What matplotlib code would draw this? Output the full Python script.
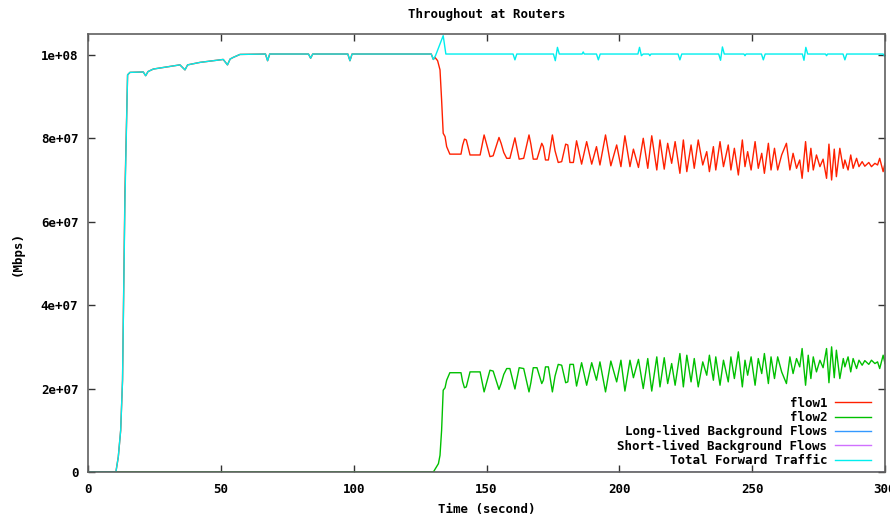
import matplotlib
matplotlib.use("Agg")
import matplotlib.pyplot as plt
from matplotlib.font_manager import FontProperties

SCALE = 1e6  # stored values are in units of 1e6

# ---------------- data ----------------
total_t = [0, 10.5, 11.4, 12.3, 13.0, 13.9, 14.9, 15.8, 20.8, 21.7, 22.6, 24.6,
           34.6, 36.5, 37.5, 42.2, 50.9, 52.5, 53.5, 54.7, 57.2, 66.8, 67.6,
           68.4, 83.0, 83.8, 84.6, 97.8, 98.6, 99.4, 129.2, 130.0, 130.8, 133.7,
           134.7, 160.0, 160.7, 161.4, 175.2, 175.9, 176.7, 177.4, 186.0, 186.4,
           186.8, 191.4, 192.1, 192.8, 207.0, 207.6, 208.3, 209.0, 211.1, 211.5,
           211.9, 222.1, 222.8, 223.5, 237.4, 238.1, 238.8, 239.5, 246.9, 247.3,
           247.7, 253.5, 254.2, 254.9, 268.9, 269.5, 270.2, 270.9, 277.6, 278.0,
           278.4, 284.2, 284.9, 285.6, 299.3, 300.0]
total_v = [0, 0, 3.6, 10, 22, 65, 95.2, 95.8, 95.9, 95.0, 96.0, 96.6,
           97.6, 96.4, 97.6, 98.2, 98.9, 97.6, 99.0, 99.4, 100.1, 100.2, 98.6,
           100.2, 100.2, 99.2, 100.2, 100.2, 98.6, 100.2, 100.2, 98.9, 99.8, 104.6,
           100.2, 100.2, 98.8, 100.2, 100.2, 98.6, 101.8, 100.2, 100.2, 100.7,
           100.2, 100.2, 98.8, 100.2, 100.2, 101.8, 99.8, 100.2, 100.2, 99.8,
           100.2, 100.2, 98.8, 100.2, 100.2, 98.7, 101.9, 100.2, 100.2, 99.8,
           100.2, 100.2, 98.8, 100.2, 100.2, 98.7, 101.8, 100.2, 100.2, 99.8,
           100.2, 100.2, 98.8, 100.2, 100.2, 99.6]

flow1_t = [0, 10.5, 11.4, 12.3, 13.0, 13.9, 14.9, 15.8, 20.8, 21.7, 22.6, 24.6,
           34.6, 36.5, 37.5, 42.2, 50.9, 52.5, 53.5, 54.7, 57.2, 66.8, 67.6,
           68.4, 83.0, 83.8, 84.6, 97.8, 98.6, 99.4, 129.2, 130.0, 130.6, 131.6,
           132.5, 133.1, 133.7, 134.4, 135.0, 136.2,
           140.4, 141.0, 141.7, 142.4, 143.8, 147.6, 149.1, 150.2, 151.3, 152.5,
           154.7, 155.5, 156.5, 157.6, 158.8, 160.7, 161.4, 162.3, 164.0, 166.0,
           166.7, 167.6, 169.0, 170.8, 171.4, 172.2, 173.3,
           174.8, 175.8, 177.0, 178.3, 179.8, 180.6, 181.4, 182.7, 183.9, 185.8,
           187.7, 189.6, 191.4, 192.7, 194.8, 196.8, 199.0, 200.6, 202.1, 204.0,
           205.3, 207.2, 209.0, 210.7, 212.2, 214.1, 215.3, 216.9,
           218.2, 219.7, 221.0, 222.8, 224.1, 225.4, 227.0, 228.2, 229.7, 231.4,
           232.9, 233.9, 235.4, 236.3, 237.9, 239.2, 241.0, 242.0, 243.3, 244.8,
           246.3, 247.3, 248.3, 249.6, 251.1, 252.3, 253.6, 254.6, 256.1, 257.1,
           258.4, 259.6, 261.1,
           262.9, 264.2, 265.4, 266.7, 267.9, 268.8, 270.1, 271.1, 272.1, 273.0,
           274.2, 275.5, 276.7, 278.0, 278.9, 279.9, 280.9, 281.7, 283.0, 284.3,
           284.9, 286.1, 287.1, 288.0, 289.3, 290.2, 291.4, 292.4, 293.9, 294.9,
           296.2, 297.2, 298.0, 299.3, 300.0]
flow1_v = [0, 0, 3.6, 10, 22, 67, 95.2, 95.8, 95.9, 95.0, 96.0, 96.6,
           97.6, 96.4, 97.6, 98.2, 98.9, 97.6, 99.0, 99.4, 100.1, 100.2, 98.6,
           100.2, 100.2, 99.2, 100.2, 100.2, 98.6, 100.2, 100.2, 98.9, 99.4, 98.6,
           96.4, 89.2, 81.2, 80.4, 78.0, 76.2,
           76.2, 78.3, 79.8, 79.6, 76.0, 76.0, 80.8, 78.2, 75.6, 75.8,
           80.2, 78.8, 76.6, 75.2, 75.2, 80.1, 77.8, 75.0, 75.2, 80.8,
           78.6, 75.0, 75.0, 78.8, 78.0, 74.8, 74.8,
           80.8, 77.0, 74.2, 74.4, 78.6, 78.4, 74.2, 74.2, 79.4, 73.8,
           79.2, 73.8, 78.0, 73.6, 80.8, 73.4, 78.4, 73.2, 80.6, 73.2,
           77.4, 73.0, 80.0, 72.8, 80.6, 72.4, 79.6, 72.6,
           78.8, 74.0, 79.2, 71.6, 79.6, 72.0, 78.4, 72.8, 79.6, 73.6,
           76.8, 72.0, 78.0, 72.4, 79.2, 73.2, 78.4, 72.4, 77.6, 71.2,
           79.6, 73.2, 76.8, 72.4, 79.2, 72.8, 76.4, 71.6, 78.8, 72.4,
           77.6, 72.4, 76.0,
           78.8, 72.4, 76.4, 72.8, 74.8, 70.4, 79.2, 72.0, 77.6, 72.4,
           76.0, 73.2, 75.0, 70.4, 78.6, 70.0, 77.4, 70.8, 77.6, 72.8,
           74.8, 72.4, 76.0, 72.8, 75.2, 73.2, 74.4, 73.3, 74.2, 73.2,
           74.0, 73.6, 75.2, 72.0, 74.0]

flow2_t = [0, 130.0, 131.9, 132.5, 133.1, 133.7, 134.4, 135.0, 136.2,
           140.4, 141.0, 141.7, 142.4, 143.8, 147.6, 149.1, 150.2, 151.3, 152.5,
           154.7, 155.5, 156.5, 157.6, 158.8, 160.7, 161.4, 162.3, 164.0, 166.0,
           166.7, 167.6, 169.0, 170.8, 171.4, 172.2, 173.3,
           174.8, 175.8, 177.0, 178.3, 179.8, 180.6, 181.4, 182.7, 183.9, 185.8,
           187.7, 189.6, 191.4, 192.7, 194.8, 196.8, 199.0, 200.6, 202.1, 204.0,
           205.3, 207.2, 209.0, 210.7, 212.2, 214.1, 215.3, 216.9,
           218.2, 219.7, 221.0, 222.8, 224.1, 225.4, 227.0, 228.2, 229.7, 231.4,
           232.9, 233.9, 235.4, 236.3, 237.9, 239.2, 241.0, 242.0, 243.3, 244.8,
           246.3, 247.3, 248.3, 249.6, 251.1, 252.3, 253.6, 254.6, 256.1, 257.1,
           258.4, 259.6, 261.1,
           262.9, 264.2, 265.4, 266.7, 267.9, 268.8, 270.1, 271.1, 272.1, 273.0,
           274.2, 275.5, 276.7, 278.0, 278.9, 279.9, 280.9, 281.7, 283.0, 284.3,
           284.9, 286.1, 287.1, 288.0, 289.3, 290.2, 291.4, 292.4, 293.9, 294.9,
           296.2, 297.2, 298.0, 299.3, 300.0]
flow2_v = [0, 0, 2.0, 4.0, 10.0, 19.6, 20.2, 22.0, 23.8,
           23.8, 21.7, 20.2, 20.4, 24.0, 24.0, 19.2, 21.8, 24.4, 24.2,
           19.8, 21.2, 23.4, 24.8, 24.8, 19.9, 22.2, 25.0, 24.8, 19.2,
           21.4, 25.0, 25.0, 21.2, 22.0, 25.2, 25.2,
           19.2, 23.0, 25.8, 25.6, 21.4, 21.6, 25.8, 25.8, 20.6, 26.2,
           20.8, 26.2, 22.0, 26.4, 19.2, 26.6, 21.6, 26.8, 19.4, 26.8,
           22.6, 27.0, 20.0, 27.2, 19.4, 27.6, 20.4, 27.4,
           21.2, 26.0, 20.8, 28.4, 20.4, 28.0, 21.6, 27.2, 20.4, 26.4,
           23.2, 28.0, 22.0, 27.6, 20.8, 26.8, 21.6, 27.6, 22.4, 28.8,
           20.4, 26.8, 23.2, 27.6, 20.8, 27.2, 23.6, 28.4, 21.2, 27.6,
           22.4, 27.6, 24.0,
           21.2, 27.6, 23.6, 27.2, 25.2, 29.6, 20.8, 28.0, 22.4, 27.6,
           24.0, 26.8, 25.0, 29.6, 21.4, 30.0, 22.6, 29.2, 22.4, 27.2,
           25.2, 27.6, 24.0, 27.2, 24.8, 26.8, 25.6, 26.7, 25.8, 26.8,
           26.0, 26.4, 24.8, 28.0, 26.0]

long_bg_t = [0, 300]
long_bg_v = [0, 0]
short_bg_t = [0, 300]
short_bg_v = [0, 0]

x_ticks = [0, 50, 100, 150, 200, 250, 300]
x_tick_labels = ["0", "50", "100", "150", "200", "250", "300"]
y_ticks = [0, 2e7, 4e7, 6e7, 8e7, 1e8]
y_tick_labels = ["0", "2e+07", "4e+07", "6e+07", "8e+07", "1e+08"]

series_labels = ["flow1", "flow2", "Long-lived Background Flows",
                 "Short-lived Background Flows", "Total Forward Traffic"]
title = "Throughout at Routers"
x_label = "Time (second)"
y_label = "(Mbps)"

# ---------------- figure ----------------
W, H = 890, 516
fig = plt.figure(figsize=(W / 100, H / 100), dpi=100)
L, R, T, B = 88, 885, 34, 472
ax = fig.add_axes([L / W, 1 - B / H, (R - L) / W, (B - T) / H])

font = FontProperties(family="DejaVu Sans Mono", weight="bold", size=9)

colors = ["#ff2000", "#00c000", "#3399ff", "#d070ff", "#00eeee"]
lw = 1.0

def scaled(v):
    return [x * SCALE for x in v]

ax.plot(flow1_t, scaled(flow1_v), color=colors[0], lw=lw, label=series_labels[0], zorder=2)
ax.plot(flow2_t, scaled(flow2_v), color=colors[1], lw=lw, label=series_labels[1], zorder=2)
ax.plot(long_bg_t, scaled(long_bg_v), color=colors[2], lw=lw, label=series_labels[2], zorder=1)
ax.plot(short_bg_t, scaled(short_bg_v), color=colors[3], lw=lw, label=series_labels[3], zorder=1)
ax.plot(total_t, scaled(total_v), color=colors[4], lw=lw, label=series_labels[4], zorder=2.1)

ax.set_xlim(0, 300)
ax.set_ylim(0, 1.05e8)
ax.set_xticks(x_ticks)
ax.set_xticklabels(x_tick_labels, fontproperties=font)
ax.set_yticks(y_ticks)
ax.set_yticklabels(y_tick_labels, fontproperties=font)
ax.tick_params(axis="both", direction="in", length=5, width=1, color="#333333",
               top=True, right=True)
ax.tick_params(axis="y", pad=7)
ax.tick_params(axis="x", pad=8)

for s in ax.spines.values():
    s.set_color("#606060")
    s.set_linewidth(1.2)
    s.set_zorder(3)

ax.set_title(title, fontproperties=font, pad=11.5)
ax.set_xlabel(x_label, fontproperties=font, labelpad=5)
ax.set_ylabel(y_label, fontproperties=font, labelpad=12)

leg = ax.legend(loc="lower right", bbox_to_anchor=(871 / W, (H - 467) / H),
                bbox_transform=fig.transFigure, markerfirst=False, frameon=False,
                handlelength=2.9, handletextpad=0.6, labelspacing=0.1,
                borderpad=0, borderaxespad=0, prop=font)

fig.savefig("out.png", dpi=100)
